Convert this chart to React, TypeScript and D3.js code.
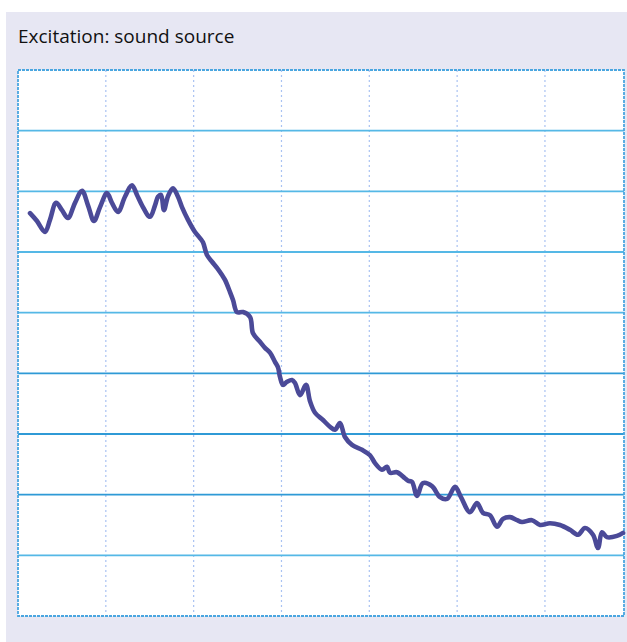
import React from 'react';
import * as d3 from 'd3';

// x in arbitrary frequency units, y as level in dB
const xValues = [
  13.7, 21.6, 30.7, 36.4, 43.3, 50.1, 56.9, 64.9, 72.9, 79.7,
  86.5, 93.4, 101.3, 107.0, 113.9, 121.8, 129.8, 135.5, 141.2, 150.3,
  156.0, 159.4, 162.8, 166.2, 170.8, 176.5, 182.2, 186.7, 193.6, 201.5,
  207.2, 210.6, 215.2, 220.9, 226.6, 232.3, 235.7, 241.4, 244.8, 249.4,
  256.2, 264.2, 267.6, 275.5, 281.2, 286.9, 292.6, 296.0, 298.3, 301.7,
  306.3, 312.0, 315.4, 321.1, 327.9, 332.5, 338.2, 347.3, 355.2, 360.9,
  366.6, 372.3, 380.3, 391.7, 400.8, 406.5, 414.5, 420.1, 423.6, 431.5,
  440.6, 444.1, 448.6, 454.3, 461.1, 471.4, 480.5, 488.5, 497.6, 504.4,
  514.6, 522.6, 529.4, 537.4, 545.4, 552.2, 560.2, 568.2, 573.9, 585.2,
  594.4, 605.7, 617.1, 628.5, 637.6, 645.6, 654.7, 660.4, 664.9, 670.6,
  682.0, 688.9
];
const levels = [
  -23.6, -24.9, -26.7, -24.7, -21.9, -23.1, -24.4, -21.9, -19.9, -22.3,
  -24.9, -22.6, -20.3, -21.9, -23.4, -20.9, -19.0, -20.6, -22.3, -24.2,
  -22.3, -20.9, -20.6, -23.1, -20.8, -19.5, -20.9, -22.6, -24.7, -26.7,
  -27.7, -28.4, -30.5, -31.6, -32.6, -33.8, -34.6, -36.6, -37.9, -39.9,
  -39.9, -40.7, -43.4, -44.8, -45.8, -46.6, -48.1, -49.0, -50.6, -51.9,
  -51.4, -51.1, -51.6, -53.6, -51.9, -54.6, -56.5, -57.7, -58.8, -59.3,
  -58.2, -60.5, -61.8, -62.6, -63.5, -64.8, -65.9, -65.4, -66.4, -66.3,
  -67.3, -67.7, -67.9, -70.2, -68.1, -68.6, -70.4, -70.7, -68.7, -70.4,
  -72.9, -71.4, -73.0, -73.4, -75.3, -74.0, -73.7, -74.2, -74.5, -74.2,
  -75.0, -74.7, -75.0, -75.8, -76.6, -75.5, -76.6, -78.8, -76.2, -77.0,
  -76.8, -76.3
];
const xTicks = [100, 200, 300, 400, 500, 600];
const yTicks = [-80, -70, -60, -50, -40, -30, -20, -10];
const title = 'Excitation: sound source';

export default function App() {
  const W = 627;
  const H = 642;
  const plot = { left: 18, top: 70, right: 624, bottom: 616 };

  const x = d3.scaleLinear().domain([0, 690]).range([plot.left, plot.right]);
  const y = d3.scaleLinear().domain([-90, 0]).range([plot.bottom, plot.top]);

  const pts = xValues.map((v, i) => [v, levels[i]] as [number, number]);
  const line = d3.line<[number, number]>()
    .x(d => x(d[0]))
    .y(d => y(d[1]))
    .curve(d3.curveCatmullRom.alpha(0.5));

  return (
    <div style={{ position: 'absolute', left: 0, top: 0 }}>
      <svg width={W} height={H} style={{ display: 'block' }}>
        <rect x={6} y={12} width={W - 6} height={H - 12} fill="#e7e7f3" />
        <text x={18} y={43} fontFamily="'Open Sans', sans-serif" fontSize={19} fill="#111">
          {title}
        </text>
        <rect x={plot.left} y={plot.top} width={plot.right - plot.left} height={plot.bottom - plot.top} fill="#fff" />
        {xTicks.map(t => (
          <line key={'vx' + t} x1={x(t)} x2={x(t)} y1={plot.top} y2={plot.bottom}
            stroke="#a9c2f2" strokeWidth={1.2} strokeDasharray="2,3" />
        ))}
        {yTicks.map(t => (
          <line key={'hy' + t} x1={plot.left} x2={plot.right} y1={y(t)} y2={y(t)}
            stroke={t <= -50 && t >= -70 ? '#2f9ad6' : '#55b8e6'} strokeWidth={1.8} />
        ))}
        <rect x={plot.left} y={plot.top} width={plot.right - plot.left} height={plot.bottom - plot.top}
          fill="none" stroke="#4aa6e0" strokeWidth={1.8} strokeDasharray="3,1" />
        <path d={line(pts) ?? ''} fill="none" stroke="#4b4a98" strokeWidth={4.6}
          strokeLinejoin="round" strokeLinecap="round" />
      </svg>
    </div>
  );
}
